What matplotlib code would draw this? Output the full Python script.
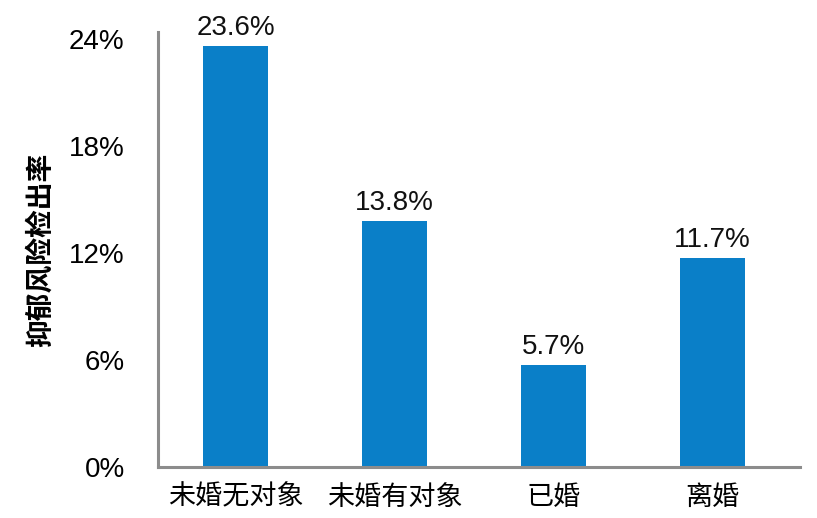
import matplotlib
matplotlib.use('Agg')
import matplotlib.pyplot as plt

plt.rcParams['font.family'] = ['Liberation Sans', 'Noto Sans CJK SC', 'DejaVu Sans']

categories = ['未婚无对象', '未婚有对象', '已婚', '离婚']
rates = [23.6, 13.8, 5.7, 11.7]
yticks = [0, 6, 12, 18, 24]

fig = plt.figure(figsize=(8.17, 5.18), dpi=100)
ax = fig.add_axes([0.1934, 0.0985, 0.7856, 0.8395])

x = list(range(len(categories)))
bars = ax.bar(x, rates, width=0.41, color='#0A7FC8')

for xi, v in zip(x, rates):
    ax.text(xi, v + 0.3, '%.1f%%' % v, ha='center', va='bottom', fontsize=20, color='#111111')

ax.set_xlim(-0.49, 3.55)
ax.set_ylim(0, 24.4)
ax.set_yticks(yticks)
ax.set_yticklabels(['%d%%' % t for t in yticks], fontsize=20)
ax.set_xticks(x)
ax.set_xticklabels(categories, fontsize=19.5, family=['Noto Sans CJK SC', 'DejaVu Sans'])
ax.tick_params(axis='y', length=0, pad=24)
ax.tick_params(axis='x', length=0, pad=12)

for s in ['top', 'right']:
    ax.spines[s].set_visible(False)
for s in ['left', 'bottom']:
    ax.spines[s].set_color('#8c8c8c')
    ax.spines[s].set_linewidth(2.2)

ax.set_ylabel('抑郁风险检出率', fontsize=20, fontweight='bold',
              family=['Noto Sans CJK SC', 'DejaVu Sans'], labelpad=10)

fig.savefig('out.png', dpi=100)
